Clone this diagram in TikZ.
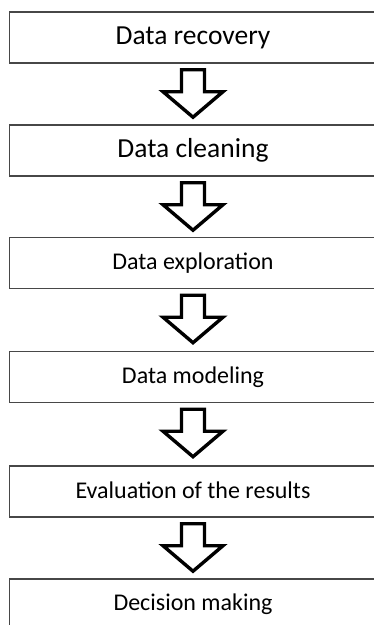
\documentclass[tikz,border=0pt]{standalone}
\usepackage{fontspec}
\setmainfont{Carlito}
\usetikzlibrary{calc}

% Process steps: open-ended boxes joined by hollow block arrows
\tikzset{
  stepbox/.style={draw=black!72, line width=1.4pt, rectangle,
    minimum width=367pt, minimum height=51pt, inner sep=0pt,
    text=black, align=center},
  bigtext/.style={font=\fontsize{27.5}{33}\selectfont},
  smalltext/.style={font=\fontsize{24}{29}\selectfont},
  blockarrow/.style={draw=black, line width=3.4pt, fill=white, line join=miter}
}

% Hollow down arrow hanging below node #1
\newcommand{\flowarrow}[1]{%
  \draw[blockarrow]
    ($(#1.south)+(-11.5,6)$) -- ($(#1.south)+(11.5,6)$) --
    ($(#1.south)+(11.5,28)$) -- ($(#1.south)+(30,28)$) --
    ($(#1.south)+(0,53.5)$) -- ($(#1.south)+(-30,28)$) --
    ($(#1.south)+(-11.5,28)$) -- cycle;}

\begin{document}
\begin{tikzpicture}[x=1pt, y=-1pt]
  \useasboundingbox (0,0) rectangle (374,625);
  \fill[white] (0,0) rectangle (374,625);
  \clip (0,0) rectangle (374,625);

  \node[stepbox, bigtext]   (s1) at (193,37.5)  {Data recovery};
  \node[stepbox, bigtext]   (s2) at (193,150.5) {Data cleaning};
  \node[stepbox, smalltext] (s3) at (193,263)   {Data exploration};
  \node[stepbox, smalltext] (s4) at (193,377)   {Data modeling};
  \node[stepbox, smalltext] (s5) at (193,491.5) {\raisebox{3pt}{Evaluation of the results}};
  \node[stepbox, smalltext] (s6) at (193,604.5) {Decision making};

  \flowarrow{s1}
  \flowarrow{s2}
  \flowarrow{s3}
  \flowarrow{s4}
  \flowarrow{s5}
\end{tikzpicture}
\end{document}
